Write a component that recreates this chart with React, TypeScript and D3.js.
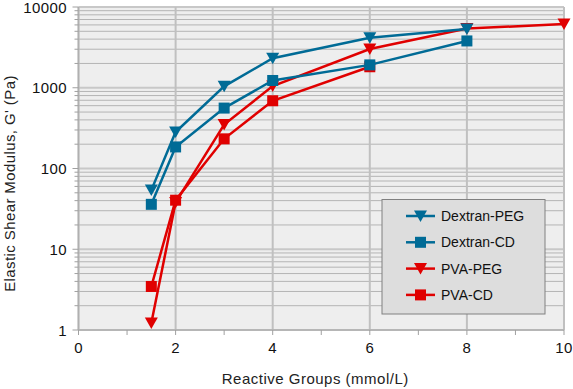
import React from "react";
import * as d3 from "d3";

const seriesNames = ["Dextran-PEG", "Dextran-CD", "PVA-PEG", "PVA-CD"];
const dextranPegX = [1.5, 2, 3, 4, 6, 8];
const dextranPegY = [54, 283, 1040, 2320, 4150, 5350];
const dextranCdX = [1.5, 2, 3, 4, 6, 8];
const dextranCdY = [36, 185, 560, 1230, 1920, 3800];
const pvaPegX = [1.5, 2, 3, 4, 6, 8, 10];
const pvaPegY = [1.22, 38, 350, 1050, 3020, 5400, 6150];
const pvaCdX = [1.5, 2, 3, 4, 6];
const pvaCdY = [3.46, 40.5, 233, 690, 1820];
const xTicks = [0, 2, 4, 6, 8, 10];
const xMinorTicks = [1, 3, 5, 7, 9];
const yTicks = [1, 10, 100, 1000, 10000];

const W = 573, H = 389;
const L = 78.5, R = 564, T = 7, B = 330;
const BLUE = "#006b96";
const RED = "#e00000";
const FONT = "'Liberation Sans', Arial, sans-serif";

export default function App() {
  const x = d3.scaleLinear().domain([0, 10]).range([L, R]);
  const y = d3.scaleLog().domain([1, 10000]).range([B, T]);
  const minor: number[] = [];
  for (let d = 1; d < 10000; d *= 10) for (let k = 2; k <= 9; k++) minor.push(d * k);
  const line = d3.line<[number, number]>().x((d) => x(d[0])).y((d) => y(d[1]));
  const series = [
    { name: seriesNames[3], xs: pvaCdX, ys: pvaCdY, color: RED, marker: "sq" },
    { name: seriesNames[2], xs: pvaPegX, ys: pvaPegY, color: RED, marker: "tri" },
    { name: seriesNames[1], xs: dextranCdX, ys: dextranCdY, color: BLUE, marker: "sq" },
    { name: seriesNames[0], xs: dextranPegX, ys: dextranPegY, color: BLUE, marker: "tri" },
  ];
  const marker = (m: string, cx: number, cy: number, color: string, key: any) =>
    m === "sq" ? (
      <rect key={key} x={cx - 5.5} y={cy - 5.5} width={11} height={11} fill={color} />
    ) : (
      <path key={key} d={`M${cx - 6.5},${cy - 5.5}L${cx + 6.5},${cy - 5.5}L${cx},${cy + 6}Z`} fill={color} />
    );
  const legendItems = [
    { name: seriesNames[0], color: BLUE, marker: "tri" },
    { name: seriesNames[1], color: BLUE, marker: "sq" },
    { name: seriesNames[2], color: RED, marker: "tri" },
    { name: seriesNames[3], color: RED, marker: "sq" },
  ];
  return (
    <svg width={W} height={H} style={{ display: "block", position: "absolute", left: 0, top: 0 }} fontFamily={FONT}>
      <rect x={0} y={0} width={W} height={H} fill="#fff" />
      <rect x={L} y={T} width={R - L} height={B - T} fill="#eeeeee" />
      {minor.map((v) => (
        <line key={"m" + v} x1={L} x2={R} y1={y(v)} y2={y(v)} stroke="#b4b4b4" strokeWidth={1} />
      ))}
      {yTicks.map((v) => (
        <line key={"g" + v} x1={L} x2={R} y1={y(v)} y2={y(v)} stroke="#c8c8c8" strokeWidth={2} />
      ))}
      {xTicks.map((v) => (
        <line key={"vx" + v} x1={x(v)} x2={x(v)} y1={T} y2={B} stroke="#c0c0c0" strokeWidth={2} />
      ))}
      <line x1={L} x2={R} y1={B} y2={B} stroke="#b0b0b0" strokeWidth={1.5} />
      <line x1={L} x2={L} y1={T} y2={B} stroke="#b0b0b0" strokeWidth={1.5} />
      {xTicks.map((v) => (
        <line key={"xt" + v} x1={x(v)} x2={x(v)} y1={B} y2={B + 5} stroke="#a0a0a0" />
      ))}
      {xMinorTicks.map((v) => (
        <line key={"xm" + v} x1={x(v)} x2={x(v)} y1={B} y2={B + 5} stroke="#a0a0a0" />
      ))}
      {yTicks.map((v) => (
        <line key={"yt" + v} x1={L - 6} x2={L} y1={y(v)} y2={y(v)} stroke="#a0a0a0" />
      ))}
      {minor.map((v) => (
        <line key={"ym" + v} x1={L - 4} x2={L} y1={y(v)} y2={y(v)} stroke="#a0a0a0" />
      ))}
      {xTicks.map((v) => (
        <text key={"xl" + v} x={x(v)} y={353} textAnchor="middle" fontSize={15} letterSpacing={0.4} fill="#111">{v}</text>
      ))}
      {yTicks.map((v) => (
        <text key={"yl" + v} x={67} y={y(v) + 5.5} textAnchor="end" fontSize={15} letterSpacing={0.4} fill="#111">{v}</text>
      ))}
      <text x={(L + R) / 2 - 6} y={384} textAnchor="middle" fontSize={15} letterSpacing={0.5} fill="#222">Reactive Groups (mmol/L)</text>
      <text transform={`translate(15,183.5) rotate(-90)`} textAnchor="middle" fontSize={15} letterSpacing={0.4} fill="#222">
        Elastic Shear Modulus, G' (Pa)
      </text>
      {series.map((s, i) => {
        const pts = s.xs.map((xv, j) => [xv, s.ys[j]] as [number, number]);
        return (
          <g key={"s" + i}>
            <path d={line(pts) || ""} fill="none" stroke={s.color} strokeWidth={2.5} />
            {pts.map((p, j) => marker(s.marker, x(p[0]), y(p[1]), s.color, j))}
          </g>
        );
      })}
      <rect x={382} y={199.5} width={163} height={114.5} fill="#dddddd" stroke="#808080" strokeWidth={1} />
      {legendItems.map((it, i) => {
        const cy = 216 + i * 26.3;
        return (
          <g key={"l" + i}>
            <line x1={406} x2={435} y1={cy} y2={cy} stroke={it.color} strokeWidth={2.5} />
            {marker(it.marker, 420.5, cy, it.color, "m")}
            <text x={441} y={cy + 5} fontSize={14} fill="#111">{it.name}</text>
          </g>
        );
      })}
    </svg>
  );
}
